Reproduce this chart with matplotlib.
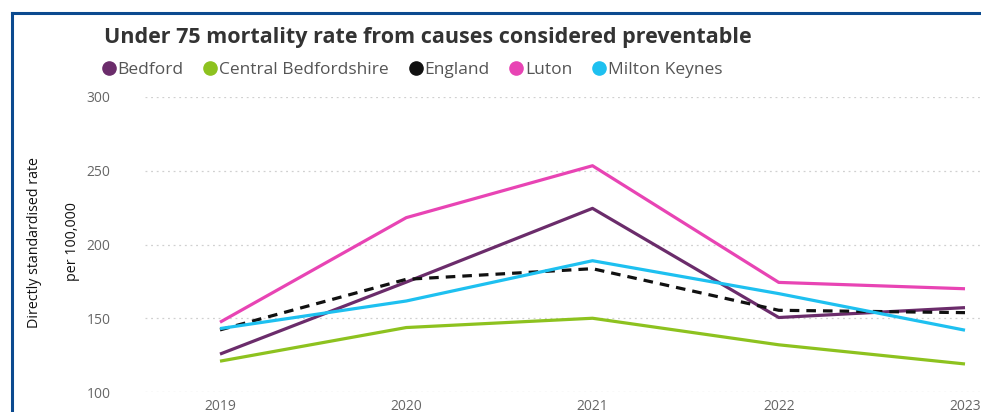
import matplotlib

matplotlib.use("Agg")
import matplotlib.pyplot as plt
from matplotlib.lines import Line2D

years = [2019, 2020, 2021, 2022, 2023]
bedford = [125.7, 174.5, 224.5, 150.5, 157.2]
central_beds = [120.9, 143.7, 150.0, 132.0, 119.0]
england = [142.1, 176.4, 183.6, 155.4, 153.8]
luton = [147.3, 218.2, 253.4, 174.3, 170.0]
milton_keynes = [143.0, 161.7, 189.0, 166.7, 141.9]

series = [
    ("Bedford", bedford, "#6b2c6b", "-"),
    ("Central Bedfordshire", central_beds, "#8dc21f", "-"),
    ("England", england, "#111111", (0, (3, 2.2))),
    ("Luton", luton, "#e844b4", "-"),
    ("Milton Keynes", milton_keynes, "#1ec0f0", "-"),
]

plt.rcParams["font.family"] = ["Open Sans", "DejaVu Sans"]

W, H = 981, 412
fig = plt.figure(figsize=(W / 100, H / 100), dpi=100)
ax = fig.add_axes([145 / W, (H - 392) / H, 1 - 145 / W, (392 - 97) / H])

for name, vals, col, ls in series:
    ax.plot(years, vals, color=col, lw=2.3, ls=ls, solid_capstyle="butt", zorder=3)

ax.set_xlim(2019 - 75 / 186.25, 2023 + 16 / 186.25)
ax.set_ylim(100, 300)
ax.set_yticks([100, 150, 200, 250, 300])
ax.set_xticks(years)
ax.grid(axis="y", color="#d0d0d0", lw=0.9, ls=(0, (1.5, 3)))
ax.grid(axis="x", visible=False)
for s in ax.spines.values():
    s.set_visible(False)
ax.tick_params(length=0, labelsize=10, colors="#666666")
ax.tick_params(axis="y", pad=12)
ax.tick_params(axis="x", pad=5)
for t in ax.get_yticklabels():
    t.set_horizontalalignment("left")
    t.set_x(-(145 - 103) / (W - 145))

narrow = ["Liberation Sans Narrow", "Open Sans"]
fig.text(35 / W, 1 - 243 / H, "Directly standardised rate", rotation=90,
         ha="center", va="center", fontsize=10.3, color="#111111", family=narrow)
fig.text(73 / W, 1 - 242 / H, "per 100,000", rotation=90,
         ha="center", va="center", fontsize=10.3, color="#111111", family=narrow)

fig.text(104 / W, 1 - 37 / H, "Under 75 mortality rate from causes considered preventable",
         ha="left", va="center", fontsize=15.5, fontweight="bold", color="#333333")

handles = [Line2D([], [], marker="o", ls="none", markersize=9.5, color=c) for _, _, c, _ in series]
leg = fig.legend(handles, [n for n, _, _, _ in series], loc="center left",
                 bbox_to_anchor=(100 / W, 1 - 70 / H), ncol=5, frameon=False,
                 handletextpad=0.0, columnspacing=1.05, handlelength=1.0,
                 fontsize=12.5, borderaxespad=0, borderpad=0)
for t in leg.get_texts():
    t.set_color("#555555")

# frame
fig.add_artist(Line2D([11.5 / W, 1], [1 - 12.5 / H, 1 - 12.5 / H], color="#0b4a8f", lw=2.2))
fig.add_artist(Line2D([11.5 / W, 11.5 / W], [0, 1 - 12.5 / H], color="#0b4a8f", lw=2.2))

fig.savefig("out.png", dpi=100, facecolor="white")
